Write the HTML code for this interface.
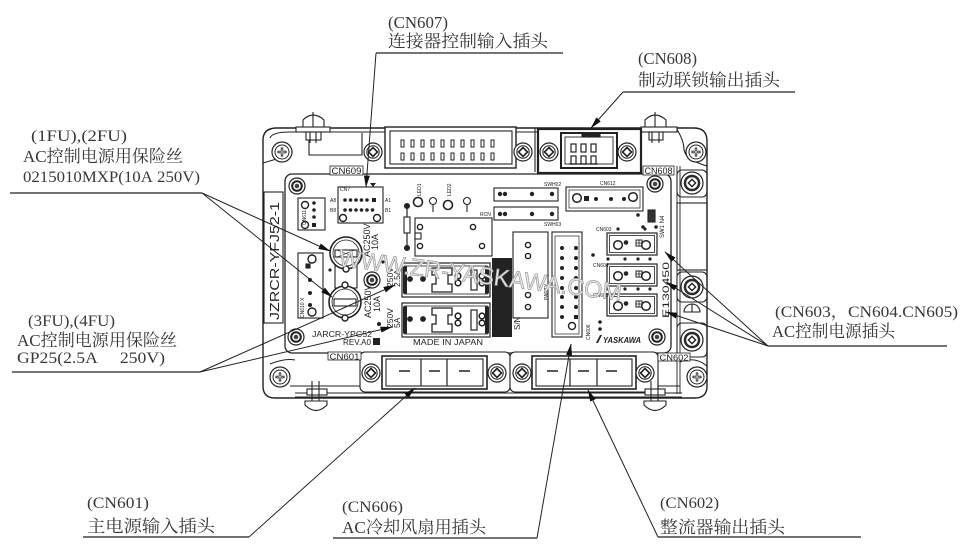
<!DOCTYPE html>
<html><head><meta charset="utf-8"><title>diagram</title>
<style>
html,body{margin:0;padding:0;background:#fff;width:965px;height:547px;overflow:hidden}
svg{display:block}
.L{font-family:"Liberation Serif","Noto Serif CJK SC",serif;fill:#383838;stroke:none}
.s{font-family:"Liberation Sans",sans-serif;fill:#222;stroke:none}
</style></head><body>
<svg width="965" height="547" viewBox="0 0 965 547" xmlns="http://www.w3.org/2000/svg">
<defs>
<marker id="ar" viewBox="0 0 12 6" refX="11.5" refY="3" markerWidth="12" markerHeight="6" markerUnits="userSpaceOnUse" orient="auto"><path d="M0,0L12,3L0,6Z" fill="#111"/></marker>
<g id="ps"><circle r="9" fill="#fff" stroke="#222" stroke-width="1.2"/><circle r="6.2" fill="none" stroke="#222"/><path d="M0,-4.5L4.5,0L0,4.5L-4.5,0Z" fill="none" stroke="#222" stroke-width="1.6"/></g>
<g id="cs"><circle r="10" fill="#fff" stroke="#222" stroke-width="1.2"/><circle r="7" fill="none" stroke="#222"/><path d="M-4.5,0H4.5M0,-4.5V4.5" stroke="#222" stroke-width="2.4"/><path d="M-3.5,0H3.5M0,-3.5V3.5" stroke="#fff" stroke-width="0.8"/></g>
<g id="ds"><circle r="8" fill="#fff" stroke="#222" stroke-width="1.2"/><circle r="5.8" fill="#222"/><circle r="3.8" fill="#fff"/><circle r="2.3" fill="#444"/></g>
<g id="rs"><circle r="11" fill="#fff" stroke="#222" stroke-width="1.2"/><circle r="8.3" fill="#2a2a2a"/><circle r="5.8" fill="#fff"/><path d="M0,-3.6L3.6,0L0,3.6L-3.6,0Z" fill="none" stroke="#222" stroke-width="1.4"/></g>
<g id="rb" fill="none" stroke="#222">
 <rect x="0" y="0" width="88" height="34" fill="#fff" stroke-width="1.2"/>
 <rect x="2.5" y="3" width="83" height="28" stroke-width="0.8"/>
 <rect x="1.5" y="4" width="3" height="26" fill="#222"/>
 <rect x="83.5" y="4" width="3" height="26" fill="#222"/>
 <circle cx="8" cy="16" r="2.4" fill="#222"/>
 <circle cx="21" cy="16" r="2.4" fill="#222"/>
 <path d="M30,5H50V12H46V21H50V29H30V21H34V12H30Z" stroke-width="1.3"/>
 <circle cx="56" cy="13" r="2.8" stroke-width="1.6"/><circle cx="56" cy="20" r="2.8" stroke-width="1.6"/>
 <rect x="69" y="7" width="6" height="20" stroke-width="1.2"/>
 <circle cx="80" cy="13" r="2.8" stroke-width="1.6"/><circle cx="80" cy="20" r="2.8" stroke-width="1.6"/>
</g>
<g id="cb" fill="none" stroke="#222">
 <rect x="0" y="0" width="50" height="22" fill="#fff" stroke-width="1.2"/>
 <rect x="2.5" y="2.5" width="45" height="17" stroke-width="0.8"/>
 <circle cx="11" cy="12" r="4.3" stroke-width="1.5"/>
 <circle cx="19" cy="9.5" r="1.8" fill="#222"/>
 <rect x="29" y="7" width="6" height="6" stroke-width="1"/><path d="M32,7V13M29,10H35" stroke-width="0.8"/>
 <circle cx="39" cy="12" r="4.3" stroke-width="1.5"/>
</g>
</defs>
<rect width="965" height="547" fill="#fff"/>

<!-- ============ BOARD ============ -->
<g fill="none" stroke="#222" stroke-width="1.1">
 <path d="M263,140 Q263,128 277,128 L694,128 Q707,128 707,141 L707,386 Q707,398 695,398 L275,398 Q263,398 263,386 Z" stroke-width="1.4"/>
 <path d="M290,132 H385 M516,132 H538 M641,132 H676"/>
 <path d="M263,163 L280,158 M270,138 Q272,132 290,132"/>
 <path d="M676,128 Q684,140 684,150 Q686,160 707,166"/>
 <path d="M309,133 V155 H362 V133"/>
 <path d="M303,127 V120 Q313,110 324,120 V127 Z" fill="#fff"/>
 <rect x="296" y="127" width="34" height="5" fill="#fff"/>
 <rect x="306" y="132" width="15" height="8" fill="#fff"/>
 <path d="M310,132 V143 M316,132 V143 M313,112 V127"/>
 <path d="M645,127 V120 Q655,110 666,120 V127 Z" fill="#fff"/>
 <rect x="641" y="127" width="36" height="5" fill="#fff"/>
 <rect x="649" y="132" width="14" height="8" fill="#fff"/>
 <path d="M652,132 V143 M659,132 V143 M655,112 V127"/>

 <rect x="385" y="127" width="131" height="41" fill="#fff" stroke-width="1.4"/>
 <rect x="390" y="131" width="122" height="33"/>
 <g stroke-width="1">
  <rect x="401" y="140" width="3" height="7"/><rect x="411" y="140" width="3" height="7"/><rect x="421" y="140" width="3" height="7"/><rect x="431" y="140" width="3" height="7"/><rect x="441" y="140" width="3" height="7"/><rect x="451" y="140" width="3" height="7"/><rect x="461" y="140" width="3" height="7"/><rect x="471" y="140" width="3" height="7"/><rect x="481" y="140" width="3" height="7"/><rect x="491" y="140" width="3" height="7"/>
  <rect x="401" y="153" width="3" height="7"/><rect x="411" y="153" width="3" height="7"/><rect x="421" y="153" width="3" height="7"/><rect x="431" y="153" width="3" height="7"/><rect x="441" y="153" width="3" height="7"/><rect x="451" y="153" width="3" height="7"/><rect x="461" y="153" width="3" height="7"/><rect x="471" y="153" width="3" height="7"/><rect x="481" y="153" width="3" height="7"/><rect x="491" y="153" width="3" height="7"/>
 </g>
 <path d="M535,128 V172"/>
 <rect x="538" y="129" width="103" height="44" stroke-width="2.2"/>
 <rect x="561" y="133" width="56" height="35" stroke-width="2"/>
 <rect x="565" y="137" width="48" height="27" stroke-width="0.9"/>
 <rect x="582" y="133" width="18" height="4" fill="#222"/>
 <g stroke-width="1.2">
  <rect x="571" y="144" width="5" height="8"/><rect x="581" y="144" width="5" height="8"/><rect x="591" y="144" width="5" height="8"/>
  <rect x="571" y="156" width="5" height="8"/><rect x="581" y="156" width="5" height="8"/><rect x="591" y="156" width="5" height="8"/>
  <path d="M569,164 H598"/>
 </g>

 <rect x="264" y="192" width="19" height="131" fill="#fff"/>

 <rect x="285" y="174" width="386" height="179" rx="7" fill="#fff" stroke-width="1.3"/>
 <path d="M677,166 V394 M680,166 V394" stroke-width="0.9"/>
 <rect x="677" y="170" width="30" height="27" rx="5"/>
 <rect x="677" y="203" width="30" height="67"/>
 <rect x="677" y="272" width="30" height="30" rx="5"/>
 <rect x="677" y="323" width="30" height="34" rx="5"/>
 <path d="M684,312 A8,8 0 0 1 700,312 Z M692,304 V312"/>

 <path d="M290,386 H360 M658,386 H680 M295,393 H682 M295,397 H682"/>
 <path d="M270,364 Q285,358 295,360 M680,362 Q695,356 707,366"/>
 <rect x="360" y="352" width="150" height="40" rx="5" fill="#fff"/>
 <rect x="382" y="356" width="105" height="33" stroke-width="1.6"/>
 <rect x="386" y="359" width="97" height="27"/>
 <path d="M421,359 V386 M447,359 V386" stroke-width="1.2"/>
 <path d="M399,371 H410 M429,371 H440 M459,371 H470" stroke-width="1.4"/>
 <rect x="510" y="352" width="148" height="40" rx="5" fill="#fff"/>
 <rect x="532" y="356" width="104" height="33" stroke-width="1.6"/>
 <rect x="536" y="359" width="96" height="27"/>
 <path d="M570,359 V386 M597,359 V386" stroke-width="1.2"/>
 <path d="M547,371 H558 M578,371 H589 M606,371 H617" stroke-width="1.4"/>
 <rect x="307" y="389" width="20" height="6" fill="#fff"/>
 <path d="M312,381 V401 M319,381 V401"/>
 <path d="M305,401 H327 V405 Q316,416 305,405 Z" fill="#fff"/>
 <rect x="645" y="389" width="20" height="6" fill="#fff"/>
 <path d="M651,381 V401 M658,381 V401"/>
 <path d="M644,401 H666 V405 Q655,416 644,405 Z" fill="#fff"/>

 <rect x="298" y="198" width="27" height="32"/>
 <circle cx="305" cy="205" r="3.5" stroke-width="1.4"/><circle cx="305" cy="225" r="3.5" stroke-width="1.4"/>
 <rect x="338" y="187" width="45" height="36"/>
 <circle cx="343" cy="218" r="3.5" stroke-width="1.4"/><circle cx="377" cy="218" r="3.5" stroke-width="1.4"/>
 <circle cx="418" cy="202" r="4.5" stroke-width="1.6"/>
 <circle cx="433" cy="201" r="3.5"/><path d="M433,205 V212"/>
 <circle cx="448" cy="205" r="4.5" stroke-width="1.6"/>
 <circle cx="467" cy="201" r="3.5"/><path d="M467,205 V212"/>
 <path d="M407,206 V248" stroke-width="1.2"/>
 <rect x="404" y="217" width="6" height="16" fill="#fff"/>
 <circle cx="407" cy="206" r="2.5" fill="#222"/><circle cx="407" cy="248" r="2.5" fill="#222"/>
 <rect x="415" y="218" width="77" height="38" fill="#fff"/>
 <rect x="415" y="233" width="6" height="6" fill="#fff"/>
 <circle cx="420" cy="227" r="2.6" stroke-width="1.4"/><circle cx="473" cy="227" r="2.6" stroke-width="1.4"/>
 <circle cx="420" cy="246" r="2.6" stroke-width="1.4"/><circle cx="482" cy="246" r="2.6" stroke-width="1.4"/>
 <rect x="494" y="188" width="64" height="13"/>
 <rect x="494" y="207" width="64" height="13"/>
 <rect x="566" y="187" width="77" height="24"/>
 <rect x="569" y="190" width="71" height="18" stroke-width="0.7"/>
 <circle cx="577" cy="198" r="4.3" stroke-width="1.5"/><circle cx="633" cy="197" r="4.3" stroke-width="1.5"/>
 <rect x="648" y="210" width="7" height="12" fill="#333"/>
 <rect x="513" y="232" width="35" height="86"/>
 <circle cx="528" cy="245" r="2.6" stroke-width="1.4"/><circle cx="528" cy="256" r="2.6" stroke-width="1.4"/>
 <circle cx="528" cy="295" r="2.6" stroke-width="1.4"/><circle cx="528" cy="307" r="2.6" stroke-width="1.4"/>
 <rect x="552" y="232" width="30" height="105" fill="#fff"/>
 <rect x="555" y="236" width="24" height="98" stroke-width="0.7"/>
 <circle cx="572" cy="326" r="3.5" stroke-width="1.4"/>
 <rect x="335" y="266" width="22" height="22" fill="#fff"/>
 <circle cx="346" cy="253" r="16" fill="#fff" stroke-width="1.6"/>
 <circle cx="346" cy="253" r="13" stroke-width="0.8"/>
 <rect x="335" y="250" width="22" height="7"/>
 <path d="M337,250 L355,257 M337,257 L355,250" stroke-width="0.6"/>
 <circle cx="346" cy="269" r="3" fill="#fff" stroke-width="1.4"/>
 <circle cx="345" cy="302" r="16" fill="#fff" stroke-width="1.6"/>
 <circle cx="345" cy="302" r="13" stroke-width="0.8"/>
 <rect x="334" y="299" width="22" height="7"/>
 <circle cx="345" cy="285" r="3" fill="#fff" stroke-width="1.4"/>
 <circle cx="345" cy="318" r="3" fill="#fff" stroke-width="1.4"/>
 <rect x="298" y="253" width="25" height="65"/>
 <circle cx="312" cy="259" r="4" stroke-width="1.4"/><circle cx="312" cy="312" r="4" stroke-width="1.4"/>
 <rect x="306" y="264" width="4" height="4" fill="#222"/>
</g>

<g fill="#222">
 <circle cx="314" cy="203" r="1.8"/><circle cx="314" cy="210" r="1.8"/><circle cx="314" cy="217" r="1.8"/><rect x="312" y="223" width="4" height="4"/>
 <circle cx="345" cy="200" r="1.8"/><circle cx="350.5" cy="200" r="1.8"/><circle cx="356" cy="200" r="1.8"/><circle cx="361.5" cy="200" r="1.8"/><circle cx="367" cy="200" r="1.8"/><rect x="372" y="198" width="4" height="4"/>
 <circle cx="345" cy="210" r="1.8"/><circle cx="350.5" cy="210" r="1.8"/><circle cx="356" cy="210" r="1.8"/><circle cx="361.5" cy="210" r="1.8"/><circle cx="367" cy="210" r="1.8"/><circle cx="372.5" cy="210" r="1.8"/>
 <path d="M370,183 H376 L373,187 Z"/>
 <circle cx="310" cy="280" r="2"/><circle cx="310" cy="293" r="2"/><circle cx="310" cy="305" r="2"/>
 <circle cx="500" cy="194" r="2.2"/><circle cx="505" cy="194" r="2.2"/><circle cx="532" cy="194" r="2.2"/><circle cx="552" cy="194" r="2.2"/>
 <circle cx="500" cy="214" r="2.2"/><circle cx="505" cy="214" r="2.2"/><circle cx="532" cy="214" r="2.2"/><circle cx="552" cy="214" r="2.2"/>
 <circle cx="596" cy="199" r="2"/><circle cx="611" cy="199" r="2"/><circle cx="624" cy="199" r="2"/><rect x="584" y="196" width="5" height="5"/>
 <circle cx="638" cy="215" r="1.8"/><circle cx="643" cy="227" r="1.8"/><circle cx="656" cy="227" r="1.8"/>
 <circle cx="562" cy="248" r="2"/><circle cx="576" cy="248" r="2"/>
 <circle cx="562" cy="258" r="2"/><circle cx="576" cy="258" r="2"/>
 <circle cx="562" cy="268" r="2"/><circle cx="576" cy="268" r="2"/>
 <circle cx="562" cy="278" r="2"/><circle cx="576" cy="278" r="2"/>
 <circle cx="562" cy="288" r="2"/><circle cx="576" cy="288" r="2"/>
 <circle cx="562" cy="297" r="2"/><circle cx="576" cy="297" r="2"/>
 <circle cx="562" cy="307" r="2"/><circle cx="576" cy="307" r="2"/>
 <circle cx="562" cy="317" r="2"/><rect x="574" y="315" width="4" height="4"/>
 <circle cx="593" cy="255" r="1.8"/><circle cx="600" cy="322" r="1.8"/><circle cx="600" cy="329" r="1.8"/>
 <circle cx="608" cy="259" r="1.6"/><circle cx="625" cy="259" r="1.6"/><circle cx="638" cy="259" r="1.6"/><circle cx="650" cy="259" r="1.6"/>
 <circle cx="608" cy="289" r="1.6"/><circle cx="625" cy="289" r="1.6"/><circle cx="638" cy="289" r="1.6"/><circle cx="650" cy="289" r="1.6"/>
 <circle cx="618" cy="229" r="1.6"/><circle cx="645" cy="229" r="1.6"/>
 <circle cx="330" cy="270" r="1.6"/><circle cx="383" cy="262" r="1.6"/>
 <circle cx="379" cy="324" r="2"/>
 <rect x="492" y="258" width="20" height="79"/>
 <rect x="373" y="338" width="7" height="7"/>
</g>

<use href="#rb" x="402" y="263"/>
<use href="#rb" x="402" y="303"/>
<use href="#cb" x="607" y="233"/>
<use href="#cb" x="607" y="264"/>
<use href="#cb" x="607" y="294"/>

<use href="#cs" x="282" y="152"/>
<use href="#cs" x="696" y="152"/>
<use href="#cs" x="280" y="377"/>
<use href="#cs" x="697" y="377"/>
<use href="#ps" x="373" y="152"/>
<use href="#ps" x="523" y="152"/>
<use href="#ps" x="549" y="152"/>
<use href="#ps" x="627" y="152"/>
<use href="#ps" x="371" y="373"/>
<use href="#ps" x="497" y="373"/>
<use href="#ps" x="522" y="373"/>
<use href="#ps" x="645" y="373"/>
<use href="#ds" x="297" y="186"/>
<use href="#ds" x="296" y="337"/>
<use href="#ds" x="372" y="280"/>
<use href="#ds" x="655" y="184"/>
<use href="#ds" x="657" y="337"/>
<use href="#rs" x="692" y="183"/>
<use href="#rs" x="692" y="287"/>
<use href="#rs" x="692" y="340"/>

<g class="s">
 <rect x="330" y="166" width="33" height="9" fill="#fff" stroke="#222" stroke-width="0.8"/>
 <text x="331.5" y="174" font-size="9" textLength="30" lengthAdjust="spacingAndGlyphs">CN609</text>
 <rect x="643" y="166" width="31" height="9" fill="#fff" stroke="#222" stroke-width="0.8"/>
 <text x="644.5" y="174" font-size="9" textLength="28" lengthAdjust="spacingAndGlyphs">CN608</text>
 <rect x="328" y="352" width="33" height="8" fill="#fff" stroke="#222" stroke-width="0.8"/>
 <text x="329.5" y="359.5" font-size="8.5" textLength="30" lengthAdjust="spacingAndGlyphs">CN601</text>
 <rect x="658" y="353" width="32" height="8" fill="#fff" stroke="#222" stroke-width="0.8"/>
 <text x="659.5" y="360.5" font-size="8.5" textLength="29" lengthAdjust="spacingAndGlyphs">CN602</text>
 <text transform="translate(279,320) rotate(-90)" font-size="13" textLength="118" lengthAdjust="spacingAndGlyphs">JZRCR-YFJ52-1</text>
 <text transform="translate(370,257) rotate(-90)" font-size="9">AC250V</text>
 <text transform="translate(378,250) rotate(-90)" font-size="9">10A</text>
 <text transform="translate(371,318) rotate(-90)" font-size="9">AC250V</text>
 <text transform="translate(380,312) rotate(-90)" font-size="9">10A</text>
 <text transform="translate(393,287) rotate(-90)" font-size="8.5">250V</text>
 <text transform="translate(400,287) rotate(-90)" font-size="8.5">2.5A</text>
 <text transform="translate(393,328) rotate(-90)" font-size="8.5">250V</text>
 <text transform="translate(400,328) rotate(-90)" font-size="8.5">5A</text>
 <text x="312" y="337" font-size="8.5" textLength="60" lengthAdjust="spacingAndGlyphs">JARCR-YPC52</text>
 <text x="343" y="345" font-size="8.5" textLength="28" lengthAdjust="spacingAndGlyphs">REV.A0</text>
 <text x="413" y="345" font-size="8.5" textLength="70" lengthAdjust="spacingAndGlyphs">MADE IN JAPAN</text>
 <text transform="translate(520,330) rotate(-90)" font-size="8">S/N</text>
 <text x="603" y="343" font-size="8" font-weight="bold" font-style="italic" textLength="38" lengthAdjust="spacingAndGlyphs">YASKAWA</text>
 <path d="M596,343 L600,335 L602,335 L598,343 Z" fill="#222"/>
 <text transform="translate(669,318) rotate(-90)" font-size="9" textLength="56" lengthAdjust="spacingAndGlyphs">E130450</text>
 <text transform="translate(664,238) rotate(-90)" font-size="6">SW1 N4</text>
 <text transform="translate(306,225) rotate(-90)" font-size="5">CN611</text>
 <text transform="translate(304,318) rotate(-90)" font-size="5">CN610 X</text>
 <text x="600" y="185" font-size="5">CN612</text>
 <text x="544" y="186" font-size="5">SWH02</text>
 <text x="544" y="226" font-size="5">SWH03</text>
 <text x="480" y="216" font-size="5">RCN</text>
 <text x="596" y="231" font-size="5">CN603</text>
 <text x="593" y="267" font-size="5">CN604</text>
 <text x="593" y="297" font-size="5">CN605</text>
 <text x="340" y="191" font-size="5">CN7</text>
 <text x="330" y="202" font-size="5">A8</text><text x="385" y="202" font-size="5">A1</text>
 <text x="330" y="212" font-size="5">B8</text><text x="385" y="212" font-size="5">B1</text>
 <text transform="translate(421,196) rotate(-90)" font-size="5">LED1</text>
 <text transform="translate(451,196) rotate(-90)" font-size="5">LED2</text>
 <text transform="translate(548,300) rotate(-90)" font-size="5">PARTY</text>
 <text transform="translate(590,340) rotate(-90)" font-size="5">CN606</text>
</g>

<text transform="translate(338,266) rotate(7)" font-family="Liberation Sans, sans-serif" font-size="24" fill="#e8e8e8" stroke="#9a9a9a" stroke-width="0.7" textLength="285" lengthAdjust="spacingAndGlyphs">WWW.ZR-YASKAWA.COM</text>

<g class="L">
 <text x="388" y="28" font-size="17" textLength="60" lengthAdjust="spacingAndGlyphs">(CN607)</text>
 <text x="388" y="47" font-size="17" textLength="160" lengthAdjust="spacingAndGlyphs">连接器控制输入插头</text>
 <text x="638" y="64" font-size="17" textLength="59" lengthAdjust="spacingAndGlyphs">(CN608)</text>
 <text x="638" y="86" font-size="17" textLength="142" lengthAdjust="spacingAndGlyphs">制动联锁输出插头</text>
 <text x="31" y="141" font-size="16" textLength="96" lengthAdjust="spacingAndGlyphs">(1FU),(2FU)</text>
 <text x="23" y="162" font-size="17" textLength="160" lengthAdjust="spacingAndGlyphs">AC控制电源用保险丝</text>
 <text x="23" y="182" font-size="16" textLength="177" lengthAdjust="spacingAndGlyphs">0215010MXP(10A&#160;250V)</text>
 <text x="28" y="326" font-size="16" textLength="87" lengthAdjust="spacingAndGlyphs">(3FU),(4FU)</text>
 <text x="17" y="346" font-size="17" textLength="160" lengthAdjust="spacingAndGlyphs">AC控制电源用保险丝</text>
 <text x="17" y="363" font-size="16" textLength="148" lengthAdjust="spacingAndGlyphs">GP25(2.5A&#160;&#160;&#160;&#160;&#160;250V)</text>
 <text x="775" y="317" font-size="16" textLength="183" lengthAdjust="spacingAndGlyphs">(CN603，CN604.CN605)</text>
 <text x="772" y="337" font-size="17" textLength="123" lengthAdjust="spacingAndGlyphs">AC控制电源插头</text>
 <text x="87" y="508" font-size="16" textLength="62" lengthAdjust="spacingAndGlyphs">(CN601)</text>
 <text x="87" y="532" font-size="17" textLength="128" lengthAdjust="spacingAndGlyphs">主电源输入插头</text>
 <text x="342" y="512" font-size="16" textLength="61" lengthAdjust="spacingAndGlyphs">(CN606)</text>
 <text x="342" y="533" font-size="17" textLength="144" lengthAdjust="spacingAndGlyphs">AC冷却风扇用插头</text>
 <text x="660" y="508" font-size="16" textLength="59" lengthAdjust="spacingAndGlyphs">(CN602)</text>
 <text x="660" y="533" font-size="17" textLength="125" lengthAdjust="spacingAndGlyphs">整流器输出插头</text>
</g>

<g stroke="#222" stroke-width="1.2" fill="none">
 <path d="M376,53 H563"/>
 <path d="M623,92 H795"/>
 <path d="M10,193 H202"/>
 <path d="M12,372 H200"/>
 <path d="M768,346 H947"/>
 <path d="M83,537 H249"/>
 <path d="M333,538 H537"/>
 <path d="M658,537 H861"/>
</g>
<g stroke="#222" stroke-width="1" fill="none" marker-end="url(#ar)">
 <path d="M376,53 L366,187"/>
 <path d="M623,92 L591,128"/>
 <path d="M202,193 L330,251"/>
 <path d="M202,193 L332,297"/>
 <path d="M200,372 L395,285"/>
 <path d="M200,372 L392,327"/>
 <path d="M768,346 L665,252"/>
 <path d="M768,346 L666,282"/>
 <path d="M768,346 L666,312"/>
 <path d="M249,537 L415,388"/>
 <path d="M537,538 L571,344"/>
 <path d="M658,537 L588,390"/>
</g>
</svg>
</body></html>
